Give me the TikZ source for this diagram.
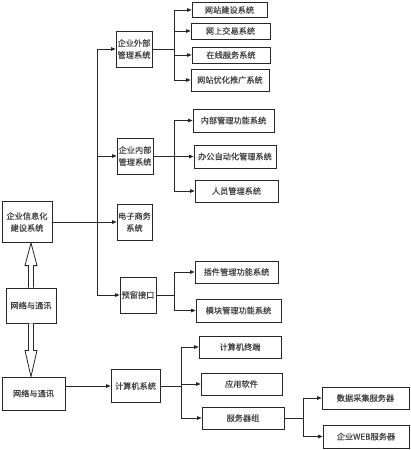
\documentclass[tikz,border=0pt]{standalone}
\usepackage{fontspec}
\setmainfont{Noto Sans CJK SC}
\newfontfamily\cjkmid{Noto Sans CJK SC}[FakeBold=0.3]
\usetikzlibrary{arrows.meta,calc}
\begin{document}
\begin{tikzpicture}[x=1pt,y=-1pt,
 box/.style={draw=black!85,line width=0.8pt,text=black!75,font=\cjkmid\fontsize{8.2}{12}\selectfont,align=center,inner sep=0pt,anchor=center},
 arr/.style={draw=black!85,line width=0.8pt,-{Triangle[length=4.5pt,width=3.6pt]}},
 ln/.style={draw=black!85,line width=0.8pt},
 hollow/.style={draw=black!85,line width=0.8pt,fill=white,line join=miter}]
\useasboundingbox[fill=white] (0,0) rectangle (411,450);
% main column
\node[box,minimum width=50pt,minimum height=41pt] (info) at (27,222) {企业信息化\\建设系统};
\node[box,minimum width=50pt,minimum height=35pt] (net1) at (31,305.5) {网络与通讯};
\node[box,minimum width=63pt,minimum height=33pt] (net2) at (33.5,393.5) {网络与通讯};
% second column
\node[box,minimum width=36pt,minimum height=36pt] (ext) at (134,49) {企业外部\\管理系统};
\node[box,minimum width=36pt,minimum height=36pt] (int) at (135,156) {企业内部\\管理系统};
\node[box,minimum width=35pt,minimum height=36pt] (ec) at (134.5,222) {电子商务\\系统};
\node[box,minimum width=36pt,minimum height=36pt] (res) at (138,295) {预留接口};
\node[box,minimum width=49pt,minimum height=33pt] (comp) at (135.5,386) {计算机系统};
% third column
\node[box,minimum width=75pt,minimum height=15pt] (e1) at (229.5,10) {网站建设系统};
\node[box,minimum width=79pt,minimum height=16pt] (e2) at (230.5,31) {网上交易系统};
\node[box,minimum width=78pt,minimum height=16pt] (e3) at (231,55) {在线服务系统};
\node[box,minimum width=78pt,minimum height=22pt] (e4) at (230,80) {网站优化推广系统};
\node[box,minimum width=81pt,minimum height=23pt] (i1) at (233.5,120.5) {内部管理功能系统};
\node[box,minimum width=82pt,minimum height=23pt] (i2) at (235,156.5) {办公自动化管理系统};
\node[box,minimum width=83pt,minimum height=22pt] (i3) at (236.5,191) {人员管理系统};
\node[box,minimum width=83pt,minimum height=22pt] (r1) at (236.5,272) {插件管理功能系统};
\node[box,minimum width=85pt,minimum height=23pt] (r2) at (238.5,310.5) {模块管理功能系统};
\node[box,minimum width=82pt,minimum height=22pt] (c1) at (240,347) {计算机终端};
\node[box,minimum width=81pt,minimum height=22pt] (c2) at (241.5,384) {应用软件};
\node[box,minimum width=82pt,minimum height=22pt] (c3) at (243,418) {服务器组};
% fourth column
\node[box,minimum width=87pt,minimum height=22pt] (s1) at (365.5,398) {数据采集服务器};
\node[box,minimum width=86pt,minimum height=23pt] (s2) at (366,436.5) {企业WEB服务器};
% bus coordinates
\coordinate (tr) at (97,0);
\coordinate (bE) at (174,0);
\coordinate (bC) at (181,0);
\coordinate (bS) at (303,0);
% trunk
\draw[arr] (info.east) -- (ec.west);
\draw[arr] (tr|-res.west) |- (ext.west);
\draw[arr] (tr|-int.west) -- (int.west);
\draw[arr] (tr|-res.west) -- (res.west);
% external
\draw[ln] (ext.east) -- (bE|-ext.east);
\draw[ln] (bE|-e1.west) -- (bE|-e4.west);
\foreach \n in {e1,e2,e3,e4}{\draw[arr] (bE|-\n.west) -- (\n.west);}
% internal
\draw[ln] (int.east) -- (bE|-int.east);
\draw[ln] (bE|-i1.west) -- (bE|-i3.west);
\foreach \n in {i1,i2,i3}{\draw[arr] (bE|-\n.west) -- (\n.west);}
% reserved
\draw[ln] (res.east) -- (bE|-res.east);
\draw[ln] (bE|-r1.west) -- (bE|-r2.west);
\foreach \n in {r1,r2}{\draw[arr] (bE|-\n.west) -- (\n.west);}
% computer
\draw[arr] (net2.east|-comp.west) -- (comp.west);
\draw[ln] (comp.east) -- (bC|-comp.east);
\draw[ln] (bC|-c1.west) -- (bC|-c3.west);
\foreach \n in {c1,c2,c3}{\draw[arr] (bC|-\n.west) -- (\n.west);}
% servers
\draw[ln] (c3.east) -- (bS|-c3.east);
\draw[ln] (bS|-s1.west) -- (bS|-s2.west);
\foreach \n in {s1,s2}{\draw[arr] (bS|-\n.west) -- (\n.west);}
% hollow arrows
\draw[hollow] ($(net1.north)+(-2.5,0)$) -- ++(0,-22) -- ++(-3.5,0) -- ($(info.south-|net1.north)$) -- ($(net1.north)+(6,-22)$) -- ++(-3.5,0) -- ($(net1.north)+(2.5,0)$);
\draw[hollow] ($(net1.south)+(-2.5,0)$) -- ++(0,27) -- ++(-3.5,0) -- ($(net2.north-|net1.south)$) -- ($(net1.south)+(6,27)$) -- ++(-3.5,0) -- ($(net1.south)+(2.5,0)$);
\end{tikzpicture}
\end{document}
